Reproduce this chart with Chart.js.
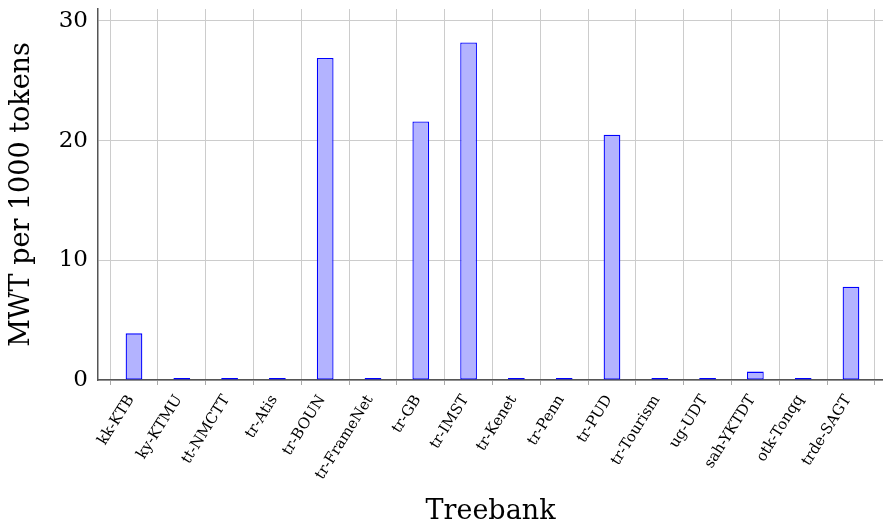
<!DOCTYPE html>
<html>
<head>
<meta charset="utf-8">
<script src="https://cdn.jsdelivr.net/npm/chart.js@4.4.0/dist/chart.umd.min.js"></script>
<style>
  html, body { margin: 0; padding: 0; background: #ffffff; }
  #wrap { width: 883px; height: 525px; position: relative; }
</style>
</head>
<body>
<div id="wrap"><canvas id="c" width="883" height="525"></canvas></div>
<script>
const treebanks = ["kk-KTB", "ky-KTMU", "tt-NMCTT", "tr-Atis", "tr-BOUN", "tr-FrameNet", "tr-GB", "tr-IMST",
                   "tr-Kenet", "tr-Penn", "tr-PUD", "tr-Tourism", "ug-UDT", "sah-YKTDT", "otk-Tonqq", "trde-SAGT"];
const mwtPer1000 = [3.9, 0, 0, 0, 26.9, 0, 21.6, 28.2, 0, 0, 20.5, 0, 0, 0.7, 0, 7.8];
const yTicks = [0, 10, 20, 30];

const FONT = "'DejaVu Serif', serif";

const points = treebanks.map((name, i) => ({ x: i, y: mwtPer1000[i] }));

new Chart(document.getElementById('c'), {
  type: 'bar',
  data: {
    datasets: [{
      label: 'MWT per 1000 tokens',
      data: points,
      backgroundColor: '#b3b3ff',
      borderColor: '#0000ff',
      borderWidth: 1.3,
      borderSkipped: false,
      minBarLength: 2,
      categoryPercentage: 1,
      barPercentage: 0.35
    }]
  },
  options: {
    responsive: false,
    animation: false,
    devicePixelRatio: 1,
    layout: { padding: { top: 9, right: 0, bottom: 0, left: 0 } },
    plugins: { legend: { display: false }, tooltip: { enabled: false } },
    scales: {
      x: {
        type: 'linear',
        min: -0.753,
        max: 15.67,
        offset: false,
        grid: { color: '#cccccc', lineWidth: 1, drawTicks: true, tickLength: 5, tickColor: '#aaaaaa' },
        border: { color: '#555555', width: 1.5 },
        ticks: {
          stepSize: 1,
          includeBounds: false,
          autoSkip: false,
          minRotation: 58,
          maxRotation: 58,
          padding: 7,
          labelOffset: -3,
          color: '#000000',
          font: { family: FONT, size: 15 },
          callback: (v) => (Number.isInteger(v) && treebanks[v] !== undefined) ? treebanks[v] : ''
        },
        afterBuildTicks: (scale) => {
          scale.ticks = treebanks.map((_, i) => ({ value: i }));
        },
        title: {
          display: true,
          text: 'Treebank',
          color: '#000000',
          font: { family: FONT, size: 27 },
          padding: { top: 0, bottom: -3 }
        },
        afterFit: (scale) => { scale.height = 145; scale.paddingLeft = 0; scale.paddingRight = 0; }
      },
      y: {
        min: 0,
        max: 31,
        grid: { color: '#cccccc', lineWidth: 1, drawTicks: false },
        border: { color: '#555555', width: 1.5 },
        ticks: {
          includeBounds: false,
          padding: 10,
          color: '#000000',
          font: { family: FONT, size: 23 }
        },
        afterBuildTicks: (scale) => {
          scale.ticks = yTicks.map(v => ({ value: v }));
        },
        title: {
          display: true,
          text: 'MWT per 1000 tokens',
          color: '#000000',
          font: { family: FONT, size: 27 },
          padding: { top: 6, bottom: 0 }
        },
        afterFit: (scale) => { scale.width = 98; scale.paddingTop = 0; scale.paddingBottom = 0; }
      }
    }
  }
});
</script>
</body>
</html>
